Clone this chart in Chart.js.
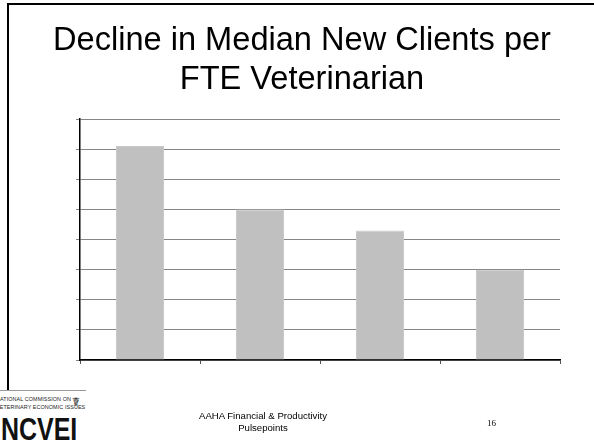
<!DOCTYPE html>
<html>
<head>
<meta charset="utf-8">
<script src="https://cdn.jsdelivr.net/npm/chart.js@4"></script>
<style>
  html, body { margin: 0; padding: 0; background: #fff; }
  #slide { position: relative; width: 594px; height: 444px; overflow: hidden; background: #fff; }
  #frame { position: absolute; left: 7px; top: 3px; width: 600px; height: 392px; border-left: 2px solid #000; border-top: 2px solid #000; }
  #chart { position: absolute; left: 0; top: 0; }
  #title { position: absolute; left: 10px; top: 19px; width: 584px; text-align: center;
           font-family: "Liberation Sans", Arial, sans-serif; font-size: 32.6px; line-height: 39px; color: #000; }
  #footer { position: absolute; left: 193px; top: 410px; width: 140px; text-align: center;
            font-family: "Liberation Sans", Arial, sans-serif; font-size: 9.6px; line-height: 12px; color: #000; }
  #page { position: absolute; left: 487px; top: 418px; font-family: "Liberation Serif", "Times New Roman", serif; font-size: 9px; color: #000; }
  #logo { position: absolute; left: 0; top: 390px; width: 86px; height: 54px; background: #fff; overflow: hidden; }
  #logo .rule { position: absolute; left: 0; top: 0; width: 86px; height: 1px; background: #999; }
  #logo .small { position: absolute; left: -4px; font-family: "Liberation Sans", Arial, sans-serif; font-size: 5.4px; color: #222; white-space: nowrap; letter-spacing: 0.1px; }
  #logo .sym { position: absolute; left: 72px; top: 5px; font-family: "DejaVu Sans", sans-serif; font-size: 12px; color: #222; }
  #logo .big { position: absolute; left: 1px; top: 23px; font-family: "Liberation Sans", Arial, sans-serif; font-weight: bold; font-size: 32px; line-height: 32px;
               color: #111; transform: scaleX(0.78); transform-origin: left top; white-space: nowrap; }
</style>
</head>
<body>
<div id="slide">
  <div id="frame"></div>
  <canvas id="chart" width="594" height="444"></canvas>
  <div id="title">Decline in Median New Clients per<br>FTE Veterinarian</div>
  <div id="footer">AAHA Financial &amp; Productivity<br>Pulsepoints</div>
  <div id="page">16</div>
  <div id="logo">
    <div class="rule"></div>
    <div class="small" style="top:6px">NATIONAL COMMISSION ON</div>
    <div class="small" style="top:14px">VETERINARY ECONOMIC ISSUES</div>
    <div class="sym">☤</div>
    <div class="big">NCVEI</div>
  </div>
</div>
<script>
// no category or value labels are printed on the slide; values read off the gridlines
const categorias = ["1", "2", "3", "4"];
const valores = [7.1, 5.0, 4.3, 3.0];
const ejeMin = 0;
const ejeMax = 8;
const ejePaso = 1;

const ctx = document.getElementById("chart");
new Chart(ctx, {
  type: "bar",
  data: {
    labels: categorias,
    datasets: [{
      data: valores,
      backgroundColor: "#c0c0c0",
      borderColor: "#cacaca",
      borderWidth: 1,
      barPercentage: 0.8,
      categoryPercentage: 0.5
    }]
  },
  options: {
    responsive: false,
    animation: false,
    layout: {
      padding: { left: 76, right: 34, top: 119, bottom: 80 }
    },
    plugins: {
      legend: { display: false },
      tooltip: { enabled: false },
      title: { display: false }
    },
    scales: {
      x: {
        ticks: { display: false },
        grid: {
          offset: true,
          drawOnChartArea: false,
          drawTicks: true,
          tickLength: 4,
          color: "#555"
        },
        border: { color: "#000", width: 1.5 }
      },
      y: {
        min: ejeMin,
        max: ejeMax,
        ticks: { display: false, stepSize: ejePaso },
        grid: {
          color: "#868686",
          lineWidth: 1,
          drawTicks: true,
          tickLength: 4
        },
        border: { color: "#000", width: 1.5 }
      }
    }
  }
});
</script>
</body>
</html>
